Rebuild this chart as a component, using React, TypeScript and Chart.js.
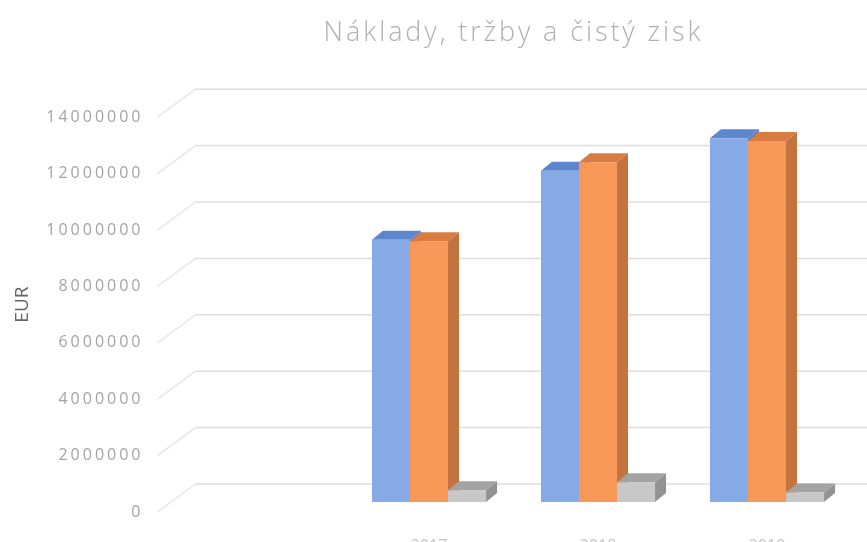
import { useEffect, useRef } from "react";
import { Chart, registerables } from "chart.js";

Chart.register(...registerables);

const titleText = "Náklady, tržby a čistý zisk";
const axisTitle = "EUR";
const categories = ["", "2017", "2018", "2019"];
const seriesNames = ["Náklady", "Tržby", "Čistý zisk"];
const costs = [null, 9300000, 11750000, 12900000];
const revenues = [null, 9250000, 12050000, 12800000];
const netProfit = [null, 420000, 700000, 340000];
const yTicks = [0, 2000000, 4000000, 6000000, 8000000, 10000000, 12000000, 14000000];

const frontColors = ["#86aae6", "#f79858", "#c8c8c8"];
const topColors = ["#5d86cd", "#d97c42", "#a3a3a3"];
const sideColors = ["#5a7fc2", "#c4733f", "#929292"];

const DX = 11;
const DY = 9;

export default function App() {
  const ref = useRef<HTMLCanvasElement>(null);

  useEffect(() => {
    document.body.style.margin = "0";
    const canvas = ref.current;
    if (!canvas) return;

    const fake3d = {
      id: "fake3d",
      beforeDatasetsDraw(chart: any) {
        const { ctx, chartArea, scales } = chart;
        const ys = scales.y;
        ctx.save();
        ctx.lineWidth = 1.5;
        for (const v of yTicks) {
          const py = ys.getPixelForValue(v);
          ctx.strokeStyle = "#e6e6e6";
          ctx.beginPath();
          ctx.moveTo(chartArea.left - 18, py + 10);
          ctx.lineTo(chartArea.left + 20, py - 18);
          ctx.stroke();
          ctx.strokeStyle = "#dedede";
          ctx.beginPath();
          ctx.moveTo(chartArea.left + 20, py - 18);
          ctx.lineTo(chart.width, py - 18);
          ctx.stroke();
        }
        chart.data.datasets.forEach((ds: any, i: number) => {
          const meta = chart.getDatasetMeta(i);
          meta.data.forEach((bar: any, j: number) => {
            if (ds.data[j] == null) return;
            const { x, y, base, width } = bar.getProps(["x", "y", "base", "width"], true);
            const l = x - width / 2;
            const r = x + width / 2;
            ctx.fillStyle = sideColors[i];
            ctx.beginPath();
            ctx.moveTo(r, y);
            ctx.lineTo(r + DX, y - DY);
            ctx.lineTo(r + DX, base - DY);
            ctx.lineTo(r, base);
            ctx.closePath();
            ctx.fill();
            ctx.fillStyle = topColors[i];
            ctx.beginPath();
            ctx.moveTo(l, y);
            ctx.lineTo(l + DX, y - DY);
            ctx.lineTo(r + DX, y - DY);
            ctx.lineTo(r, y);
            ctx.closePath();
            ctx.fill();
          });
        });
        ctx.restore();
      },
      afterDraw(chart: any) {
        const { ctx, chartArea, scales } = chart;
        const ys = scales.y;
        ctx.save();
        // y tick labels
        ctx.font = "16px 'Open Sans'";
        (ctx as any).letterSpacing = "3px";
        ctx.fillStyle = "#a4a4a4";
        ctx.textAlign = "right";
        ctx.textBaseline = "middle";
        for (const v of yTicks) {
          const py = ys.getPixelForValue(v);
          ctx.fillText(String(v), chartArea.left - 32, py + 10);
        }
        // title
        ctx.font = "300 27px 'Open Sans'";
        (ctx as any).letterSpacing = "2.9px";
        ctx.fillStyle = "#b0b0b0";
        ctx.textAlign = "center";
        ctx.fillText(titleText, (chartArea.left + chartArea.right) / 2, 33);
        ctx.restore();
      },
    };

    const chart = new Chart(canvas, {
      type: "bar",
      data: {
        labels: categories,
        datasets: [
          { label: seriesNames[0], data: costs, backgroundColor: frontColors[0] },
          { label: seriesNames[1], data: revenues, backgroundColor: frontColors[1] },
          { label: seriesNames[2], data: netProfit, backgroundColor: frontColors[2] },
        ],
      },
      options: {
        animation: false,
        responsive: false,
        maintainAspectRatio: false,
        devicePixelRatio: 1,
        layout: { padding: { left: 0, right: 15.5, top: 107.2, bottom: 0 } },
        datasets: { bar: { categoryPercentage: 0.675, barPercentage: 1 } },
        plugins: {
          legend: { display: false },
          title: { display: false },
          tooltip: { enabled: false },
        },
        scales: {
          x: {
            grid: { display: false, drawTicks: false },
            border: { display: false },
            ticks: {
              color: "#c4c4c4",
              padding: 35,
              font: { family: "'Open Sans'", size: 16 },
              maxRotation: 0,
            },
            afterFit(scale: any) {
              scale.height = 40;
            },
          },
          y: {
            min: 0,
            max: 14000000,
            grid: { display: false, drawTicks: false },
            border: { display: false },
            ticks: { display: false, stepSize: 2000000 },
            title: {
              display: true,
              text: axisTitle,
              color: "#666666",
              font: { family: "'Open Sans'", size: 19 },
              padding: { top: 11, bottom: 0 },
            },
            afterFit(scale: any) {
              scale.width = 175.5;
            },
          },
        },
      },
      plugins: [fake3d],
    });

    return () => chart.destroy();
  }, []);

  return (
    <div style={{ position: "fixed", left: 0, top: 0, width: 867, height: 542, background: "#fff" }}>
      <canvas ref={ref} width={867} height={542} style={{ width: 867, height: 542, display: "block" }} />
    </div>
  );
}
